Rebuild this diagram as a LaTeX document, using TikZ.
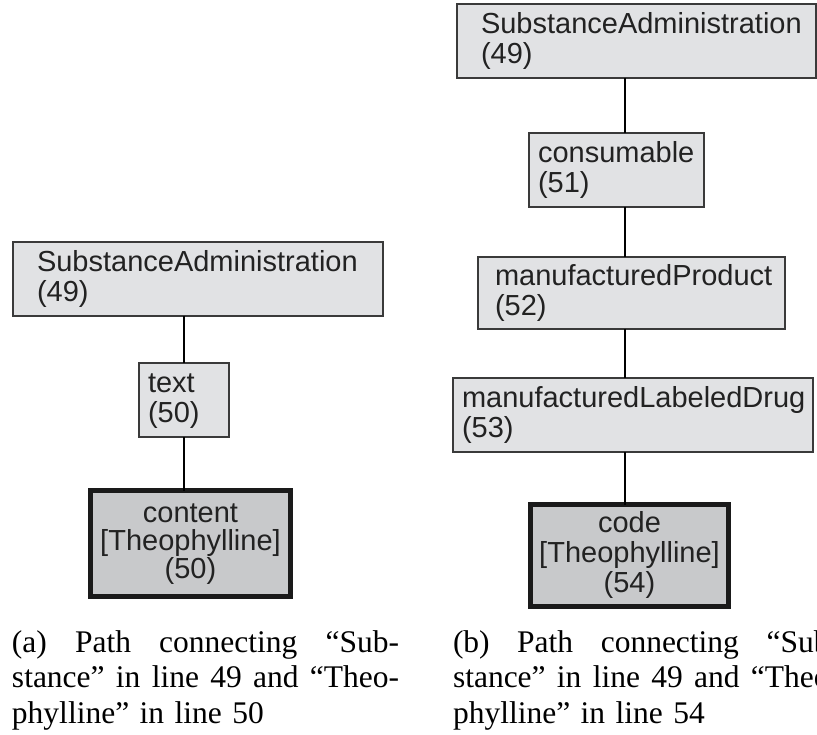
\documentclass[tikz,border=0pt]{standalone}
\usepackage{fontspec}
\setmainfont{Liberation Serif}
\newfontfamily\boxfont{Liberation Sans}
\newfontfamily\capfont{Liberation Serif}
\definecolor{elemfill}{HTML}{E1E2E4}
\definecolor{keyfill}{HTML}{C8C9CB}
\definecolor{boxline}{HTML}{3A3A3A}
\definecolor{keyline}{HTML}{1A1A1A}
\definecolor{boxtext}{HTML}{222222}
\hbadness=10000 \hfuzz=30pt
% struts that fix the first-line height and last-line depth inside boxes
\newcommand\elemtop{\rule{0pt}{22pt}}
\newcommand\elembot{\rule[-6pt]{0pt}{6pt}}
\newcommand\keytop{\rule{0pt}{21pt}}
\newcommand\keybot{\rule[-7pt]{0pt}{7pt}}
\newcommand\capbot{\rule[-8pt]{0pt}{8pt}}
% one justified caption line of fixed width (interword spaces stretch)
\newcommand\capline[1]{\leavevmode\hbox to 387pt{\spaceskip=0.25em plus 1fil minus 0.08em\relax #1}}
\begin{document}
\begin{tikzpicture}[x=1pt,y=-1pt,
  elem/.style={draw=boxline, line width=1.1pt, fill=elemfill, text=boxtext,
    font=\boxfont\fontsize{29}{30}\selectfont, align=left, anchor=north west,
    inner ysep=0pt, outer sep=0pt, minimum height=74pt},
  keyelem/.style={draw=keyline, line width=5pt, fill=keyfill, text=boxtext,
    align=center, anchor=center, inner sep=0pt, outer sep=0pt},
  edge/.style={draw=black, line width=1.8pt},
  caption/.style={font=\capfont\fontsize{31.5}{35.5}\selectfont, text width=387pt,
    inner sep=0pt, outer sep=0pt, anchor=south west}]
\useasboundingbox (0,0) rectangle (817,735);

% ---- (a) ----
\node[elem, inner xsep=24pt, text width=322pt] (saA) at (13,242)
  {\elemtop SubstanceAdministration\\(49)\elembot};
\node[elem, inner xsep=9pt, text width=72pt] (txt) at (139,363)
  {\elemtop text\\(50)\elembot};
\node[keyelem, font=\boxfont\fontsize{29}{28}\selectfont,
      minimum width=200pt, minimum height=106pt] (cont) at (190.5,543.5)
  {\keytop content\\{[}Theophylline{]}\\(50)\keybot};
\coordinate (spineA) at (184,0);
\draw[edge] (spineA |- saA.south) -- (spineA |- txt.north);
\draw[edge] (spineA |- txt.south) -- (spineA |- cont.north);

% ---- (b) ----
\node[elem, inner xsep=24pt, text width=311pt] (saB) at (457,4)
  {\elemtop SubstanceAdministration\\(49)\elembot};
\node[elem, inner xsep=9pt, text width=157pt] (cons) at (529,133)
  {\elemtop consumable\\(51)\elembot};
\node[elem, inner xsep=17pt, text width=273pt, minimum height=72pt] (mprod) at (478,257)
  {\elemtop manufacturedProduct\\(52)\elembot};
\node[elem, inner xsep=9pt, text width=342pt] (mld) at (453,378)
  {\elemtop manufacturedLabeledDrug\\(53)\elembot};
\node[keyelem, font=\boxfont\fontsize{29}{30}\selectfont,
      minimum width=198pt, minimum height=102pt] (code) at (629.5,555.5)
  {\keytop code\\{[}Theophylline{]}\\(54)\keybot};
\coordinate (spineB) at (625,0);
\draw[edge] (spineB |- saB.south) -- (spineB |- cons.north);
\draw[edge] (spineB |- cons.south) -- (spineB |- mprod.north);
\draw[edge] (spineB |- mprod.south) -- (spineB |- mld.north);
\draw[edge] (spineB |- mld.south) -- (spineB |- code.north);

% ---- captions ----
\node[caption] (capA) at (12,731)
  {\capline{(a) Path connecting “Sub-}\\
   \capline{stance” in line 49 and “Theo-}\\
   phylline” in line 50\capbot};
\node[caption] (capB) at (453,731)
  {\capline{(b) Path connecting “Sub-}\\
   \capline{stance” in line 49 and “Theo-}\\
   phylline” in line 54\capbot};
\end{tikzpicture}
\end{document}
